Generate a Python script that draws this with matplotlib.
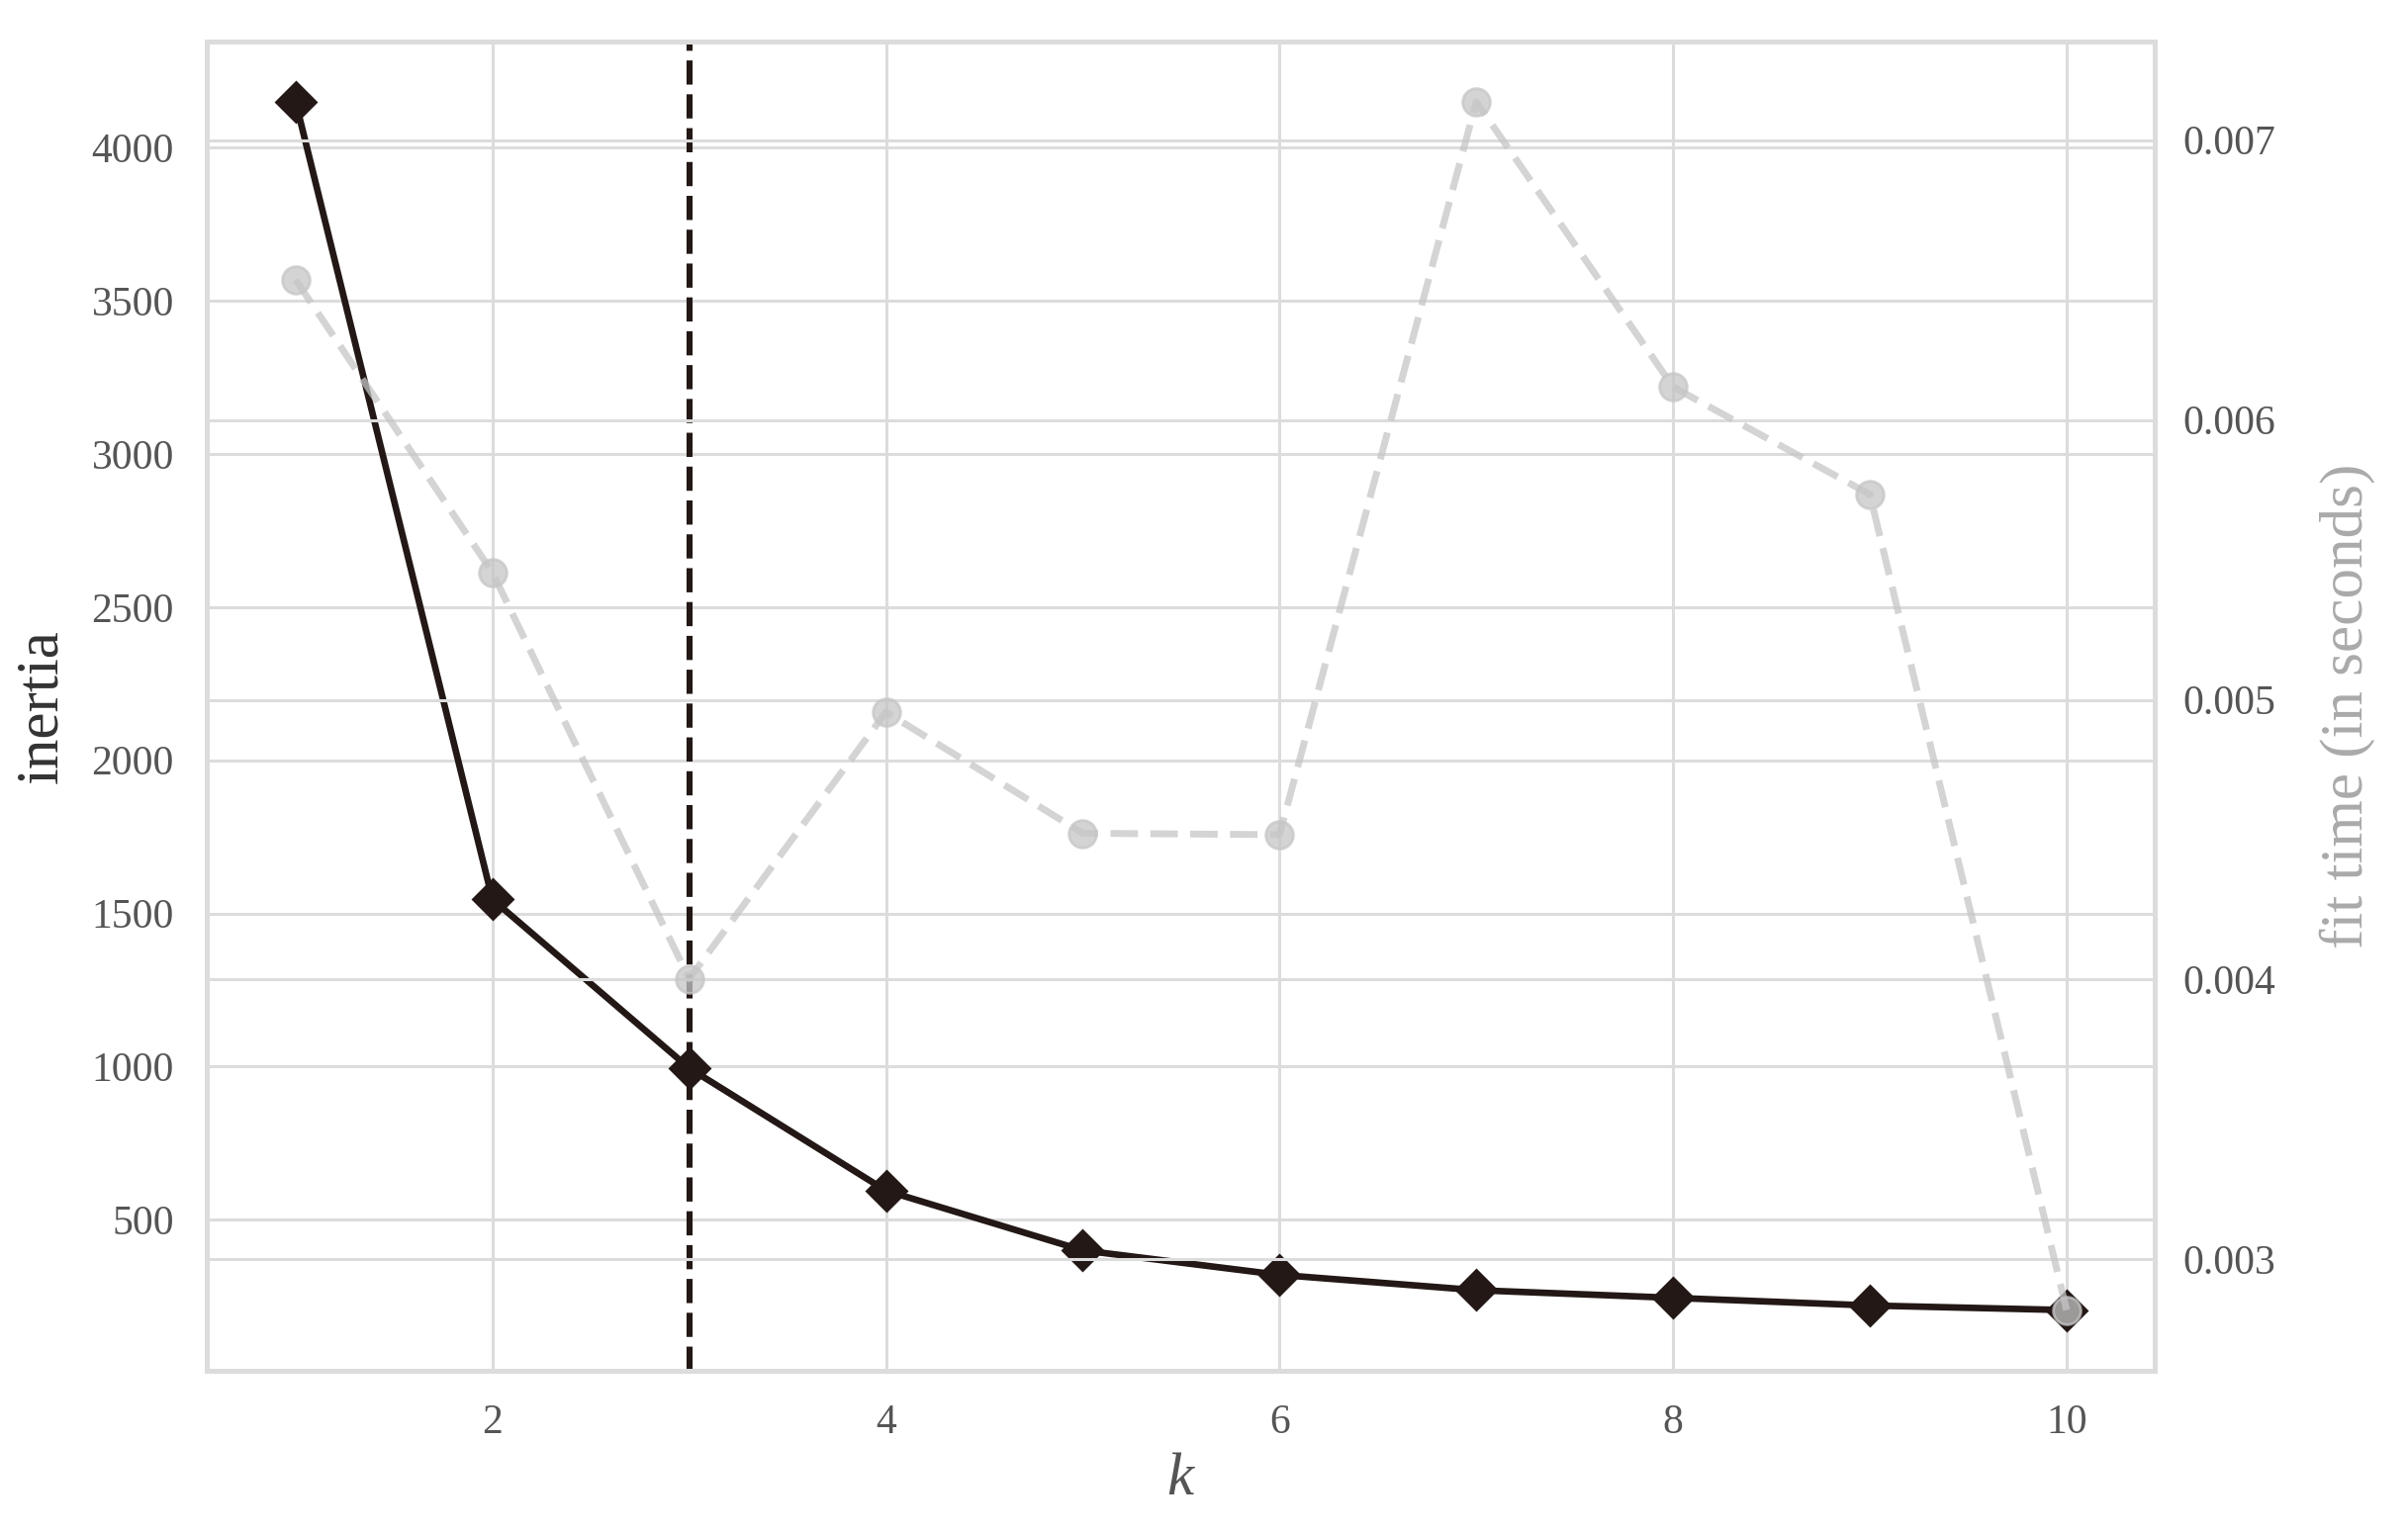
import matplotlib
matplotlib.use("Agg")
import matplotlib.pyplot as plt

k_values = [1, 2, 3, 4, 5, 6, 7, 8, 9, 10]
inertia = [4150, 1546, 995, 595, 400, 320, 270, 245, 220, 205]
fit_time = [0.006501, 0.005455, 0.004003, 0.004956, 0.004523, 0.004518,
            0.007137, 0.006118, 0.005734, 0.002819]
elbow_k = 3
x_ticks = [2, 4, 6, 8, 10]
y_ticks = [500, 1000, 1500, 2000, 2500, 3000, 3500, 4000]
y2_ticks = [0.003, 0.004, 0.005, 0.006, 0.007]

plt.rcParams['font.family'] = ['Liberation Serif', 'DejaVu Serif']
plt.rcParams['mathtext.fontset'] = 'custom'
plt.rcParams['mathtext.it'] = 'Liberation Serif:italic'

GRID = '#dcdcdc'
DARK = '#231815'

fig = plt.figure(figsize=(12.17, 7.75), dpi=200)
ax = fig.add_axes([0.086, 0.106, 0.809, 0.867])

ax.plot(k_values, inertia, color=DARK, lw=2.4, marker='D', markersize=10, zorder=3)
ax.axvline(elbow_k, color=DARK, lw=2.2, ls=(0, (4, 1.6)), zorder=2)

ax.set_xticks(x_ticks)
ax.set_yticks(y_ticks)
ax.grid(True, color=GRID, lw=1.1)
for s in ax.spines.values():
    s.set_color(GRID)
    s.set_linewidth(1.8)
ax.tick_params(length=0, labelsize=15, labelcolor='#555555', pad=12)
ax.set_xlabel('$k$', fontsize=22, color='#555555', labelpad=4)
ax.set_ylabel('inertia', fontsize=22, color='#333333', labelpad=8)

ax2 = ax.twinx()
ax2.plot(k_values, fit_time, color='#c6c6c6', alpha=0.75, lw=2.5,
         ls=(0, (4, 1.8)), marker='o', markersize=10)
ax2.set_yticks(y2_ticks)
ax2.grid(True, color=GRID, lw=1.1)
for s in ax2.spines.values():
    s.set_color(GRID)
    s.set_linewidth(1.8)
ax2.tick_params(length=0, labelsize=15, labelcolor='#555555', pad=10)
ax2.set_ylabel('fit time (in seconds)', fontsize=22, color='#aaaaaa', labelpad=16)

fig.savefig('out.png', dpi=200, facecolor='white')
